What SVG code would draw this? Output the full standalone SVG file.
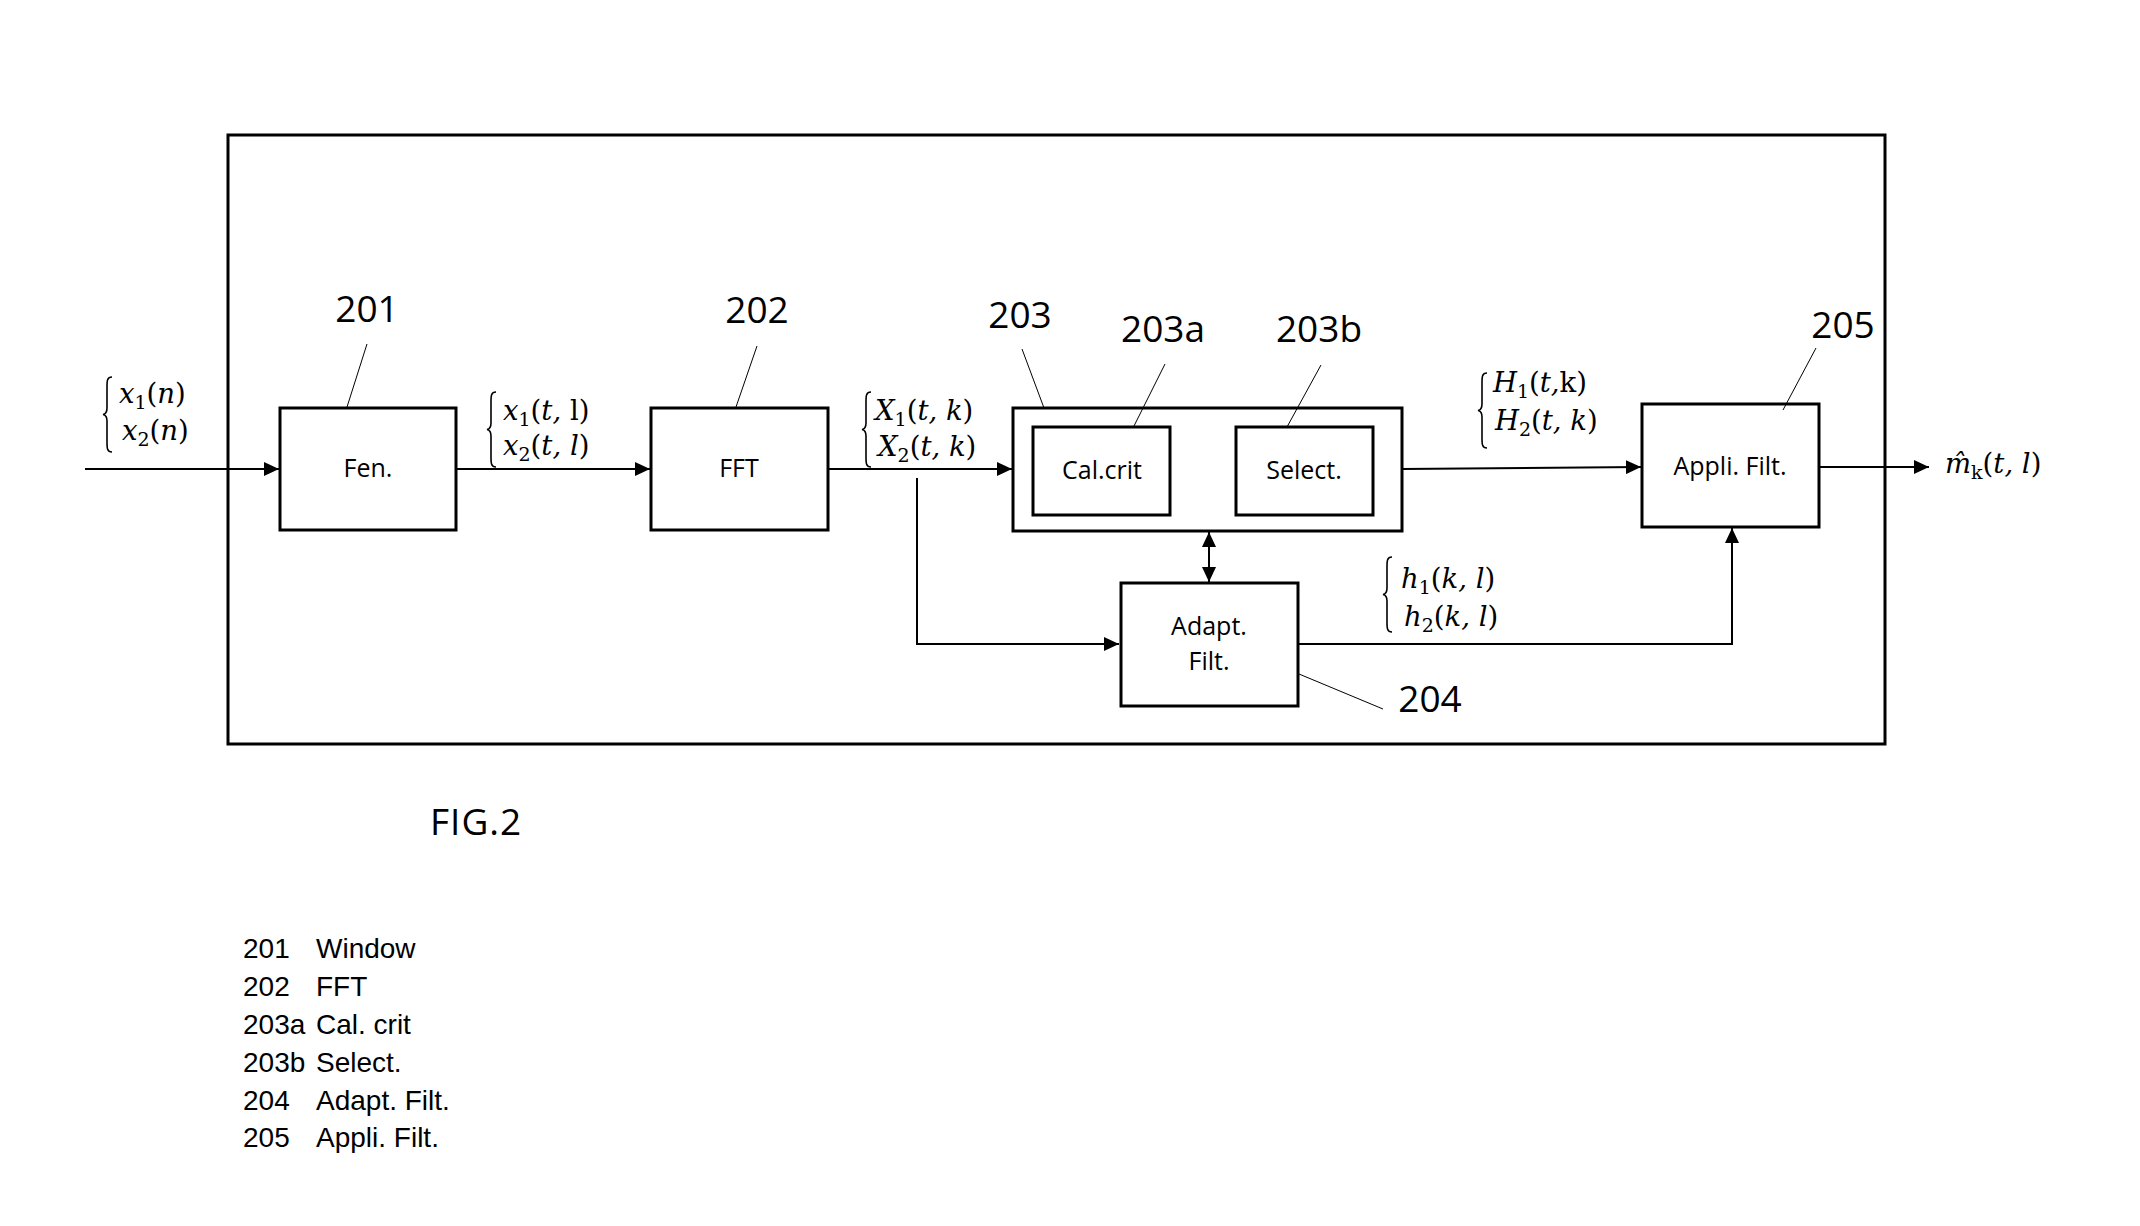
<svg xmlns="http://www.w3.org/2000/svg" width="2140" height="1226" viewBox="0 0 2140 1226">
<style>
.box{fill:#fff;stroke:#000;stroke-width:3}
.lbl{font-family:"Open Sans","Noto Sans",sans-serif;font-size:25px;text-anchor:middle;fill:#000}
.num{font-family:"Open Sans","Noto Sans",sans-serif;font-size:37px;text-anchor:middle;fill:#000}
.lead{stroke:#000;stroke-width:1;fill:none}
.conn{stroke:#000;stroke-width:2;fill:none}
.math{font-family:"DejaVu Serif","Liberation Serif",serif;font-size:27.5px;font-style:italic;fill:#000}
.up{font-style:normal}
.sub{font-size:19px;font-style:normal}
.brace{stroke:#000;stroke-width:1.6;fill:none}
.leg{font-family:"Liberation Sans",Arial,sans-serif;font-size:28px;fill:#000}
</style>
<defs>
<marker id="ah" markerUnits="userSpaceOnUse" markerWidth="16" markerHeight="14" refX="15" refY="7" orient="auto-start-reverse">
<path d="M0,0 L15,7 L0,14 z" fill="#000"/>
</marker>
</defs>
<rect width="2140" height="1226" fill="#fff"/>
<rect id="frame" x="228" y="135" width="1657" height="609" fill="none" stroke="#000" stroke-width="3"/>

<g id="connectors">
<line class="conn" x1="85" y1="469" x2="279" y2="469" marker-end="url(#ah)"/>
<line class="conn" x1="456" y1="469" x2="650" y2="469" marker-end="url(#ah)"/>
<line class="conn" x1="828" y1="469" x2="1012" y2="469" marker-end="url(#ah)"/>
<polyline class="conn" points="917,478 917,644 1119,644" marker-end="url(#ah)"/>
<line class="conn" x1="1171" y1="472" x2="1235" y2="472" marker-start="url(#ah)" marker-end="url(#ah)"/>
<line class="conn" x1="1209" y1="532" x2="1209" y2="582" marker-start="url(#ah)" marker-end="url(#ah)"/>
<line class="conn" x1="1402" y1="469" x2="1641" y2="467" marker-end="url(#ah)"/>
<polyline class="conn" points="1297,644 1732,644 1732,528" marker-end="url(#ah)"/>
<line class="conn" x1="1819" y1="467" x2="1929" y2="467" marker-end="url(#ah)"/>
</g>

<g id="n201">
<rect class="box" x="280" y="408" width="176" height="122"/>
<text class="lbl" x="368" y="477">Fen.</text>
<text class="num" x="367" y="322">201</text>
<line class="lead" x1="367" y1="344" x2="347" y2="407"/>
</g>

<g id="n202">
<rect class="box" x="651" y="408" width="177" height="122"/>
<text class="lbl" x="739" y="477">FFT</text>
<text class="num" x="757" y="323">202</text>
<line class="lead" x1="757" y1="346" x2="736" y2="407"/>
</g>

<g id="n203">
<rect class="box" x="1013" y="408" width="389" height="123"/>
<text class="num" x="1020" y="328">203</text>
<line class="lead" x1="1022" y1="349" x2="1044" y2="408"/>
</g>

<g id="n203a">
<rect class="box" x="1033" y="427" width="137" height="88"/>
<text class="lbl" x="1102" y="479">Cal.crit</text>
<text class="num" x="1163" y="342">203a</text>
<line class="lead" x1="1165" y1="364" x2="1134" y2="426"/>
</g>

<g id="n203b">
<rect class="box" x="1236" y="427" width="137" height="88"/>
<text class="lbl" x="1304" y="479">Select.</text>
<text class="num" x="1319" y="342">203b</text>
<line class="lead" x1="1321" y1="365" x2="1287" y2="427"/>
</g>

<g id="n204">
<rect class="box" x="1121" y="583" width="177" height="123"/>
<text class="lbl" x="1209" y="635">Adapt.</text>
<text class="lbl" x="1209" y="670">Filt.</text>
<text class="num" x="1430" y="712">204</text>
<line class="lead" x1="1299" y1="674" x2="1383" y2="709"/>
</g>

<g id="n205">
<rect class="box" x="1642" y="404" width="177" height="123"/>
<text class="lbl" x="1730" y="475">Appli. Filt.</text>
<text class="num" x="1843" y="338">205</text>
<line class="lead" x1="1816" y1="348" x2="1783" y2="410"/>
</g>

<g id="signal-labels">
<path class="brace" d="M112,377 C107,377 107,381 107,387 L107,408 C107,412 106,414 103,414.5 C106,415 107,417 107,421 L107,442 C107,448 107,452 112,452"/>
<text class="math" x="119" y="403">x<tspan class="sub" dy="6">1</tspan><tspan class="up" dy="-6">(</tspan>n<tspan class="up">)</tspan></text>
<text class="math" x="122" y="440">x<tspan class="sub" dy="6">2</tspan><tspan class="up" dy="-6">(</tspan>n<tspan class="up">)</tspan></text>

<path class="brace" d="M496,392 C491,392 491,396 491,402 L491,423 C491,427 490,429 487,429.5 C490,430 491,432 491,436 L491,457 C491,463 491,467 496,467"/>
<text class="math" x="503" y="420">x<tspan class="sub" dy="6">1</tspan><tspan class="up" dy="-6">(</tspan>t, <tspan class="up">l)</tspan></text>
<text class="math" x="503" y="455">x<tspan class="sub" dy="6">2</tspan><tspan class="up" dy="-6">(</tspan>t, l<tspan class="up">)</tspan></text>

<path class="brace" d="M871,392 C866,392 866,396 866,402 L866,423 C866,427 865,429 862,429.5 C865,430 866,432 866,436 L866,457 C866,463 866,467 871,467"/>
<text class="math" x="875" y="420">X<tspan class="sub" dy="6">1</tspan><tspan class="up" dy="-6">(</tspan>t, k<tspan class="up">)</tspan></text>
<text class="math" x="878" y="456">X<tspan class="sub" dy="6">2</tspan><tspan class="up" dy="-6">(</tspan>t, k<tspan class="up">)</tspan></text>

<path class="brace" d="M1487,373 C1482,373 1482,377 1482,383 L1482,404 C1482,408 1481,410 1478,410.5 C1481,411 1482,413 1482,417 L1482,438 C1482,444 1482,448 1487,448"/>
<text class="math" x="1493" y="392">H<tspan class="sub" dy="6">1</tspan><tspan class="up" dy="-6">(</tspan>t,<tspan class="up">k)</tspan></text>
<text class="math" x="1495" y="430">H<tspan class="sub" dy="6">2</tspan><tspan class="up" dy="-6">(</tspan>t, k<tspan class="up">)</tspan></text>

<path class="brace" d="M1392,557 C1387,557 1387,561 1387,567 L1387,588 C1387,592 1386,594 1383,594.5 C1386,595 1387,597 1387,601 L1387,622 C1387,628 1387,632 1392,632"/>
<text class="math" x="1401" y="588">h<tspan class="sub" dy="6">1</tspan><tspan class="up" dy="-6">(</tspan>k, l<tspan class="up">)</tspan></text>
<text class="math" x="1404" y="626">h<tspan class="sub" dy="6">2</tspan><tspan class="up" dy="-6">(</tspan>k, l<tspan class="up">)</tspan></text>

<text class="math" x="1945" y="473">m̂<tspan class="sub" font-style="italic" dy="6">k</tspan><tspan class="up" dy="-6">(</tspan>t, l<tspan class="up">)</tspan></text>
</g>

<text id="fig" x="430" y="835" font-family="'Open Sans','Noto Sans',sans-serif" font-size="37" letter-spacing="1">FIG.2</text>

<g id="legend" class="leg">
<text class="leg" y="958"><tspan x="243">201</tspan><tspan x="316">Window</tspan></text>
<text class="leg" y="996"><tspan x="243">202</tspan><tspan x="316">FFT</tspan></text>
<text class="leg" y="1034"><tspan x="243">203a</tspan><tspan x="316">Cal. crit</tspan></text>
<text class="leg" y="1072"><tspan x="243">203b</tspan><tspan x="316">Select.</tspan></text>
<text class="leg" y="1110"><tspan x="243">204</tspan><tspan x="316">Adapt. Filt.</tspan></text>
<text class="leg" y="1147"><tspan x="243">205</tspan><tspan x="316">Appli. Filt.</tspan></text>
</g>
</svg>
